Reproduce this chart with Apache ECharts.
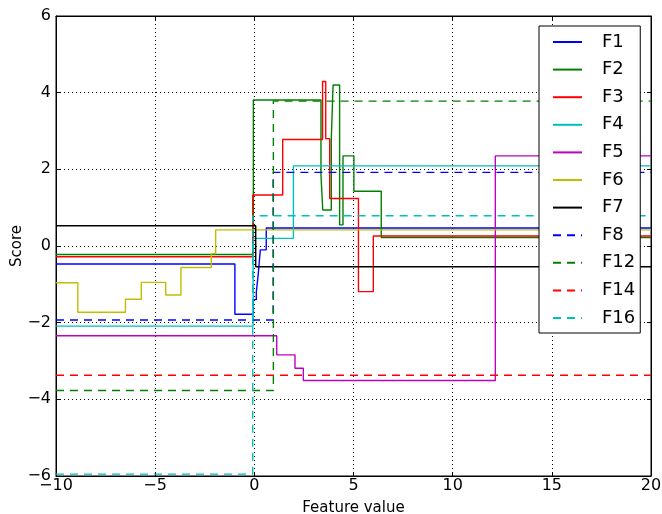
<!DOCTYPE html>
<html>
<head>
<meta charset="utf-8">
<script src="https://cdn.jsdelivr.net/npm/echarts@6/dist/echarts.min.js"></script>
<style>
  html, body { margin: 0; padding: 0; background: #fff; }
  #chart { width: 662px; height: 514px; }
</style>
</head>
<body>
<div id="chart"></div>
<script>
// step breakpoints (x where a level starts) and the levels
var f1X = [-10, -0.98, -0.05, 0.1, 0.2, 0.3, 0.6, 20];
var f1Y = [-0.47, -1.78, -1.4, -1.2, -0.72, -0.1, 0.47, 0.47];
var f2X = [-10, -0.05, 3.36, 3.45, 3.88, 3.97, 4.3, 4.47, 5.02, 6.4, 20];
var f2Y = [-0.22, 3.81, 1.85, 0.94, 2.77, 4.2, 0.55, 2.35, 1.43, 0.22, 0.22];
var f3X = [-10, -0.08, 1.43, 3.44, 3.6, 3.8, 5.25, 6.0, 20];
var f3Y = [-0.28, 1.33, 2.78, 4.29, 2.8, 1.24, -1.19, 0.26, 0.26];
var f4X = [-10, -0.06, 1.97, 20];
var f4Y = [-2.09, 0.2, 2.09, 2.09];
var f5X = [-10, 1.13, 2.05, 2.47, 12.15, 20];
var f5Y = [-2.34, -2.84, -3.19, -3.51, 2.35, 2.35];
var f6X = [-10, -8.9, -6.5, -5.7, -4.47, -3.7, -2.17, -1.95, 20];
var f6Y = [-0.96, -1.73, -1.39, -0.95, -1.28, -0.56, -0.2, 0.42, 0.42];
var f7X = [-10, 0.07, 20];
var f7Y = [0.53, -0.54, -0.54];
var f8X = [-10, 0.95, 20];
var f8Y = [-1.93, 1.92, 1.92];
var f12X = [-10, 0.96, 20];
var f12Y = [-3.77, 3.78, 3.78];
var f14X = [-10, 20];
var f14Y = [-3.37, -3.37];
var f16X = [-10, -0.08, 20];
var f16Y = [-5.95, 0.79, 0.79];

var names = ["F1", "F2", "F3", "F4", "F5", "F6", "F7", "F8", "F12", "F14", "F16"];
var xsAll = [f1X, f2X, f3X, f4X, f5X, f6X, f7X, f8X, f12X, f14X, f16X];
var ysAll = [f1Y, f2Y, f3Y, f4Y, f5Y, f6Y, f7Y, f8Y, f12Y, f14Y, f16Y];
var colors = ["#0000ff", "#008000", "#ff0000", "#00bfbf", "#bf00bf", "#bfbf00", "#000000",
              "#0000ff", "#008000", "#ff0000", "#00bfbf"];
var dashed = [false, false, false, false, false, false, false, true, true, true, true];

var xTicks = { min: -10, max: 20, step: 5 };
var yTicks = { min: -6, max: 6, step: 2 };

function fmt(v) {
    return v < 0 ? "\u2212" + Math.abs(v) : String(v);
}

var series = names.map(function (n, i) {
    var data = xsAll[i].map(function (x, j) { return [x, ysAll[i][j]]; });
    return {
        name: n,
        type: "line",
        step: "end",
        data: data,
        symbol: "none",
        animation: false,
        lineStyle: { color: colors[i], width: 1.4, type: dashed[i] ? [8, 6] : "solid" },
        itemStyle: { color: colors[i] }
    };
});

var chart = echarts.init(document.getElementById("chart"));
var font = "DejaVu Sans";
chart.setOption({
    animation: false,
    backgroundColor: "#fff",
    grid: {
        left: 56, right: 11, top: 16, bottom: 38,
        outerBoundsMode: "none", containLabel: false,
        show: true, borderColor: "#000", borderWidth: 1
    },
    legend: {
        orient: "vertical",
        left: 539,
        top: 26,
        padding: [7, 5, 6, 13],
        itemWidth: 29,
        itemHeight: 14,
        itemGap: 9.6,
        backgroundColor: "#fff",
        borderColor: "#000",
        borderWidth: 1,
        itemStyle: { opacity: 0 },
        textStyle: { fontFamily: font, fontSize: 18, color: "#000", padding: [0, 0, 0, 15] },
        data: names
    },
    xAxis: [{
        type: "value",
        min: xTicks.min, max: xTicks.max, interval: xTicks.step,
        name: "Feature value",
        nameLocation: "middle",
        nameGap: 25,
        nameMoveOverlap: false,
        nameTextStyle: { fontFamily: font, fontSize: 15, color: "#000" },
        axisLine: { onZero: false, lineStyle: { color: "#000" } },
        axisTick: { inside: true, length: 4, lineStyle: { color: "#000" } },
        axisLabel: { fontFamily: font, fontSize: 16, color: "#000", margin: 2, formatter: fmt },
        splitLine: { show: true, lineStyle: { color: "#000", type: [1, 3], width: 1 } }
    }, {
        type: "value", position: "top",
        min: xTicks.min, max: xTicks.max, interval: xTicks.step,
        axisLine: { onZero: false, lineStyle: { color: "#000" } },
        axisTick: { inside: true, length: 4, lineStyle: { color: "#000" } },
        axisLabel: { show: false },
        splitLine: { show: false }
    }],
    yAxis: [{
        type: "value",
        min: yTicks.min, max: yTicks.max, interval: yTicks.step,
        name: "Score",
        nameLocation: "middle",
        nameGap: 31,
        nameMoveOverlap: false,
        nameTextStyle: { fontFamily: font, fontSize: 15, color: "#000" },
        axisLine: { show: true, onZero: false, lineStyle: { color: "#000" } },
        axisTick: { show: true, inside: true, length: 4, lineStyle: { color: "#000" } },
        axisLabel: { fontFamily: font, fontSize: 16, color: "#000", margin: 5, formatter: fmt },
        splitLine: { show: true, lineStyle: { color: "#000", type: [1, 3], width: 1 } }
    }, {
        type: "value", position: "right",
        min: yTicks.min, max: yTicks.max, interval: yTicks.step,
        axisLine: { show: true, onZero: false, lineStyle: { color: "#000" } },
        axisTick: { show: true, inside: true, length: 4, lineStyle: { color: "#000" } },
        axisLabel: { show: false },
        splitLine: { show: false }
    }],
    series: series
});
</script>
</body>
</html>
